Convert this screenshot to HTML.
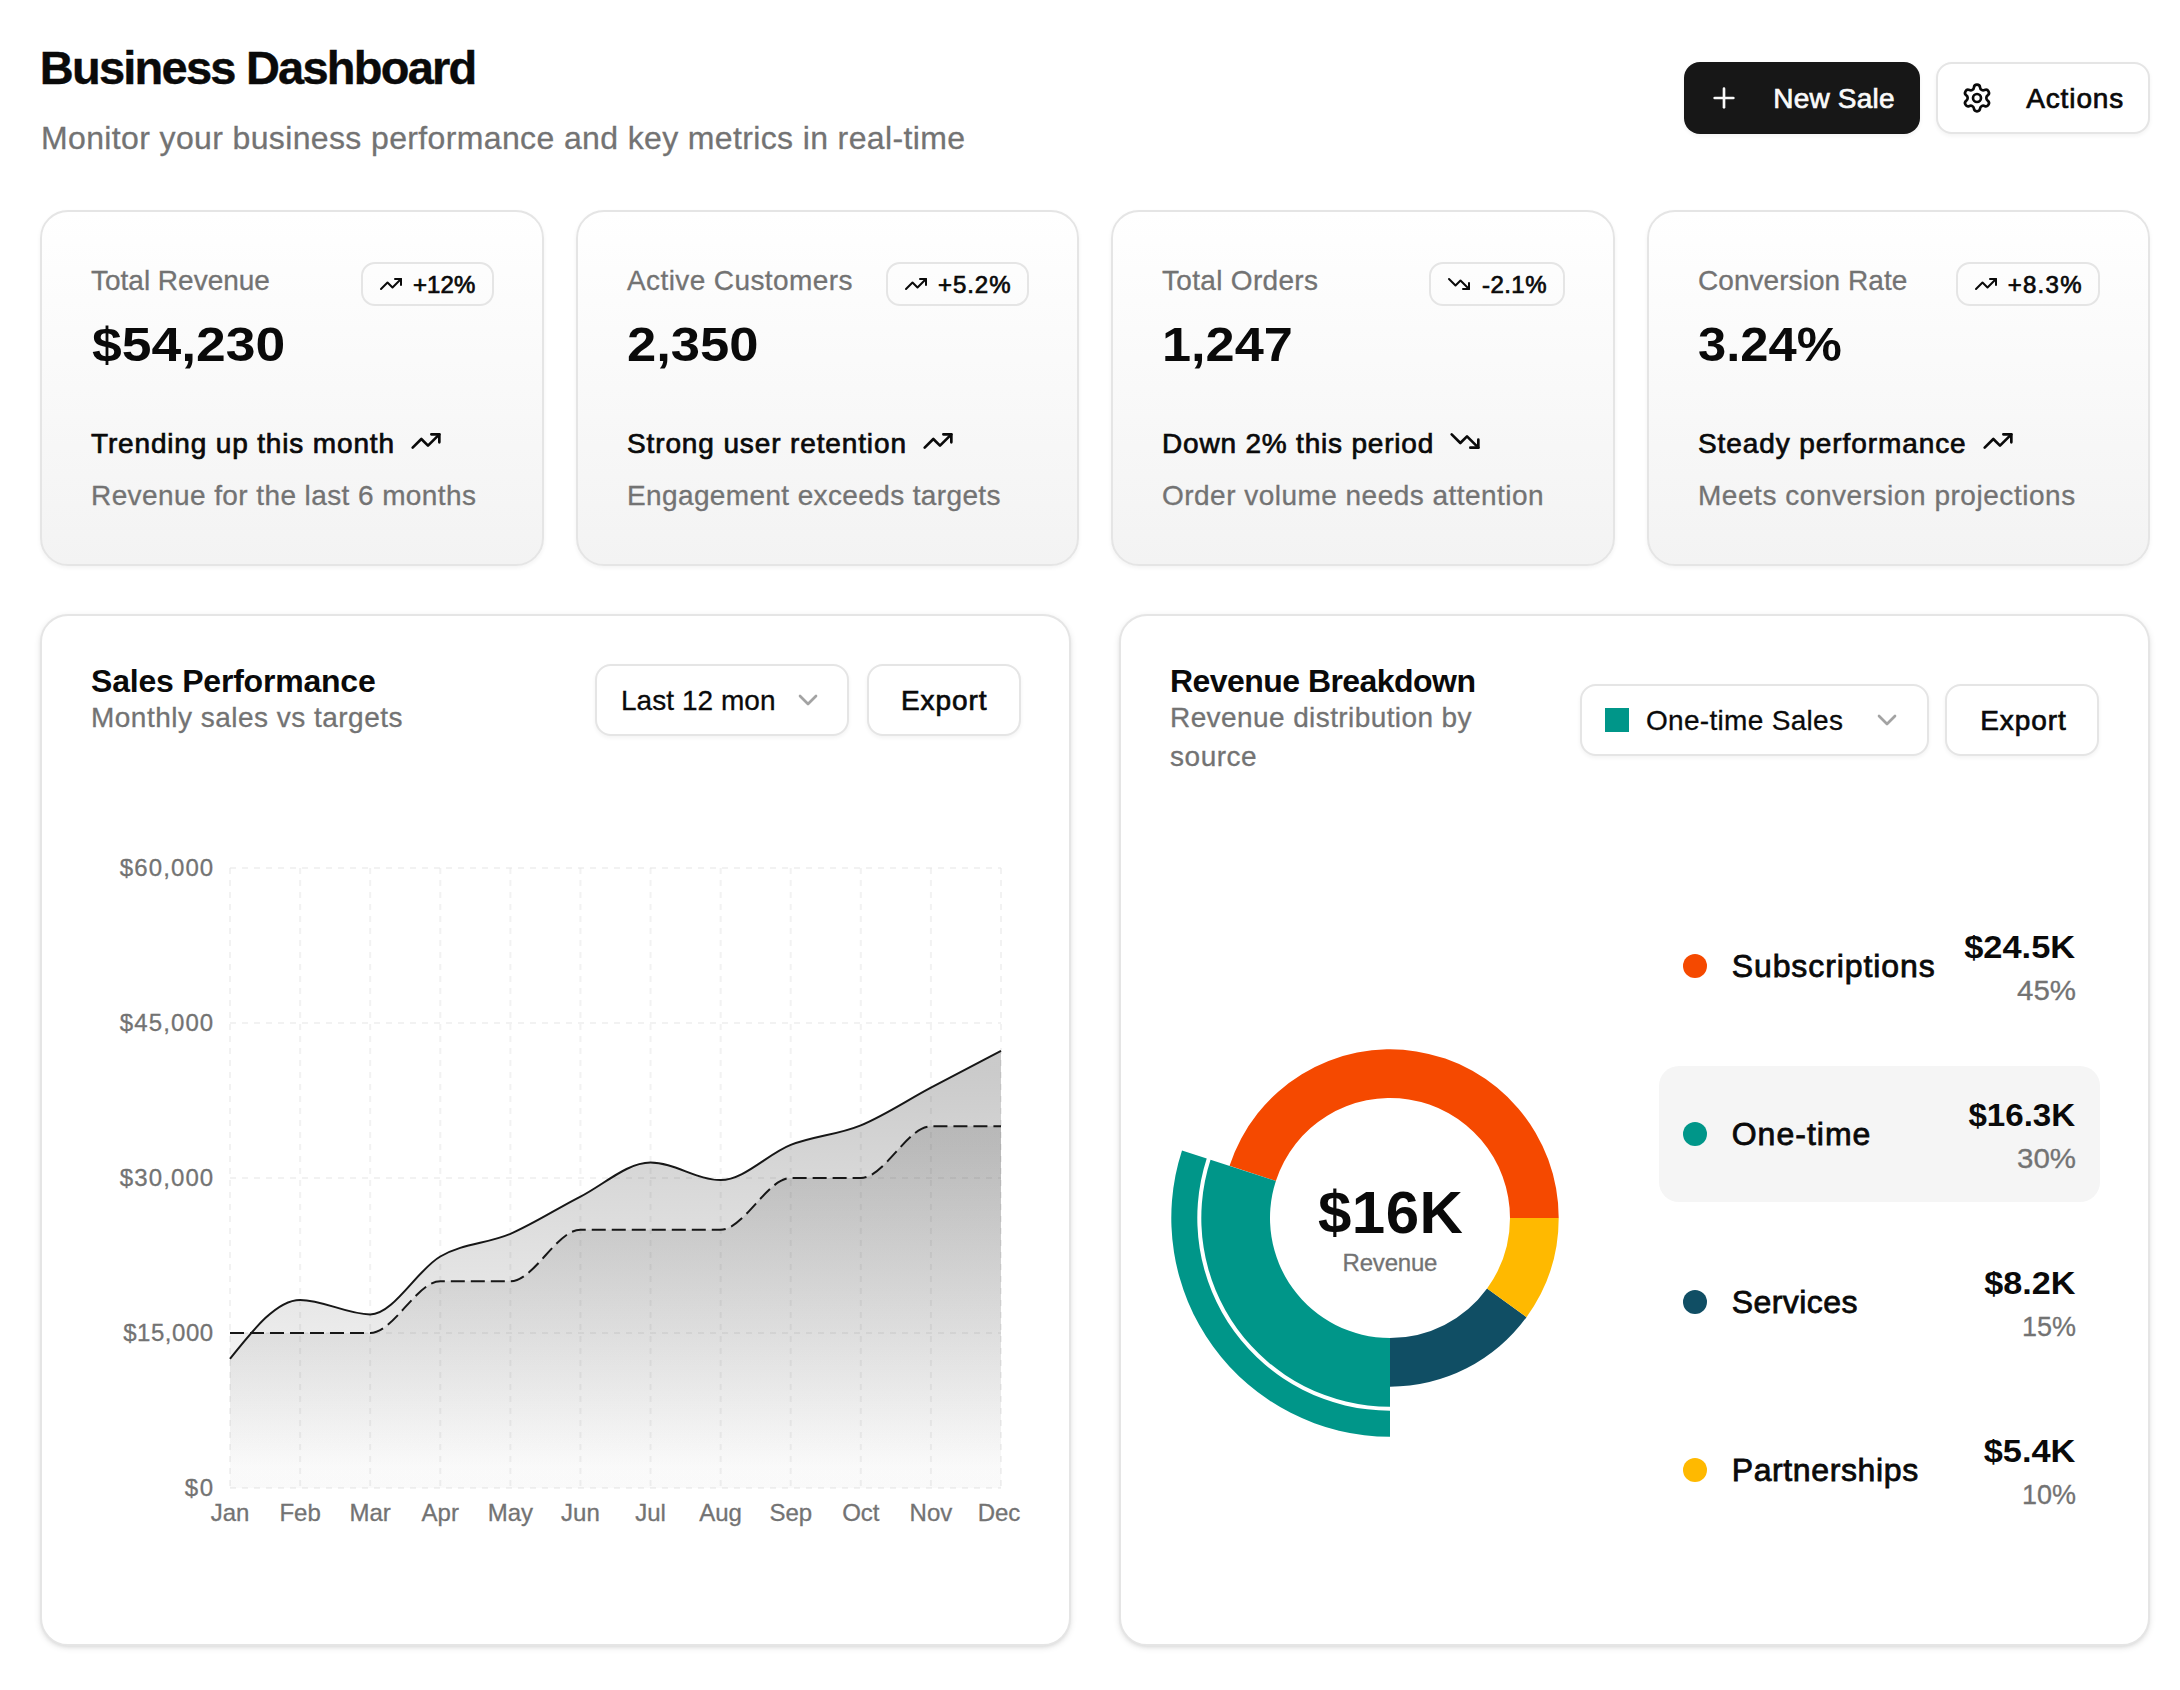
<!DOCTYPE html>
<html lang="en">
<head>
<meta charset="utf-8">
<title>Business Dashboard</title>
<meta name="viewport" content="width=2180">
<style>
*{box-sizing:border-box}
html,body{margin:0;padding:0;background:#fff}
body{width:2180px;height:1690px;position:relative;overflow:hidden;font-family:'Liberation Sans', Arial, sans-serif;color:#0a0a0a;-webkit-font-smoothing:antialiased}
h1,h2,p,ul,li,strong,button{margin:0;padding:0;font:inherit;color:inherit;list-style:none}
.t{position:absolute;white-space:pre;display:block;font-weight:400}
.ic,.abs{position:absolute;display:block}
svg.abs{overflow:visible}
.card{position:absolute;background:#fff;border:2px solid #e5e5e5;border-radius:28px;box-shadow:0 2px 6px rgba(0,0,0,0.1),0 2px 4px -2px rgba(0,0,0,0.1)}
.card.stat{background:linear-gradient(to top,#f3f3f3,#ffffff);box-shadow:0 2px 4px rgba(0,0,0,0.05)}
.btn{position:absolute;border-radius:16px;border:0;background:none;text-align:left;cursor:pointer;overflow:visible}
.btn.primary{background:#171717;box-shadow:0 2px 4px rgba(0,0,0,0.05)}
.btn.outline{background:#fff;border:2px solid #e5e5e5;box-shadow:0 2px 4px rgba(0,0,0,0.05)}
.badge{position:absolute;border:2px solid #e5e5e5;border-radius:14px}
.sw{position:absolute;background:#009689}
.dot{position:absolute;border-radius:50%}
.row{position:absolute;border-radius:20px}
.row.active{background:#f5f5f5}
</style>
</head>
<body>
<header class="abs" style="left:0px;top:0px;width:2180px;height:190px;">
<h1 class="t" style="left:39.80px;top:38.21px;font-size:47px;line-height:59px;font-weight:700;letter-spacing:-1.767px;-webkit-text-stroke:0.4px #0a0a0a;">Business Dashboard</h1>
<p class="t" style="left:41.00px;top:118.41px;font-size:32px;line-height:40px;color:#737373;letter-spacing:0.366px;-webkit-text-stroke:0.3px #737373;">Monitor your business performance and key metrics in real-time</p>
<button class="btn primary" type="button" style="left:1684px;top:62px;width:236px;height:72px;">
<svg class="ic" style="left:24.00px;top:20.00px" width="32" height="32" viewBox="0 0 24 24" fill="none" stroke="#fafafa" stroke-width="2" stroke-linecap="round" stroke-linejoin="round" aria-hidden="true"><path d="M5 12h14"/><path d="M12 5v14"/></svg>
<span class="t" style="left:89.30px;top:18.80px;font-size:28px;line-height:35px;color:#fafafa;letter-spacing:0.194px;-webkit-text-stroke:0.7px #fafafa;">New Sale</span>
</button>
<button class="btn outline" type="button" style="left:1936px;top:62px;width:214px;height:72px;">
<svg class="ic" style="left:23.30px;top:18.00px" width="32" height="32" viewBox="0 0 24 24" fill="none" stroke="#0a0a0a" stroke-width="2" stroke-linecap="round" stroke-linejoin="round" aria-hidden="true"><path d="M9.671 4.136a2.34 2.34 0 0 1 4.659 0 2.34 2.34 0 0 0 3.319 1.915 2.34 2.34 0 0 1 2.33 4.033 2.34 2.34 0 0 0 0 3.831 2.34 2.34 0 0 1-2.33 4.033 2.34 2.34 0 0 0-3.319 1.915 2.34 2.34 0 0 1-4.659 0 2.34 2.34 0 0 0-3.32-1.915 2.34 2.34 0 0 1-2.33-4.033 2.34 2.34 0 0 0 0-3.831A2.34 2.34 0 0 1 6.35 6.051a2.34 2.34 0 0 0 3.319-1.915"/><circle cx="12" cy="12" r="3"/></svg>
<span class="t" style="left:88.20px;top:16.80px;font-size:28px;line-height:35px;letter-spacing:0.879px;-webkit-text-stroke:0.7px #0a0a0a;">Actions</span>
</button>
</header>
<section class="abs stats" style="left:0px;top:190px;width:2180px;height:400px;">
<article class="card stat" style="left:40px;top:20px;width:504px;height:356px;">
<span class="t label" style="left:49.00px;top:51.00px;font-size:28px;line-height:35px;color:#737373;letter-spacing:-0.010px;-webkit-text-stroke:0.3px #737373;">Total Revenue</span>
<strong class="t value" style="left:49.80px;top:103.37px;font-size:48px;line-height:60px;font-weight:700;transform:scaleX(1.1134);transform-origin:left center;">$54,230</strong>
<div class="badge" style="left:318.7px;top:50px;width:133.3px;height:44px;">
<svg class="ic" style="left:16.00px;top:8.00px" width="24" height="24" viewBox="0 0 24 24" fill="none" stroke="#0a0a0a" stroke-width="2" stroke-linecap="round" stroke-linejoin="round" aria-hidden="true"><polyline points="22 7 13.5 15.5 8.5 10.5 2 17"/><polyline points="16 7 22 7 22 13"/></svg>
<span class="t" style="left:50.20px;top:5.98px;font-size:24px;line-height:30px;letter-spacing:0.179px;-webkit-text-stroke:0.7px #0a0a0a;">+12%</span>
</div>
<footer class="abs" style="left:0px;top:208px;width:500px;height:100px;">
<span class="t" style="left:49.00px;top:6.20px;font-size:28px;line-height:35px;letter-spacing:0.840px;-webkit-text-stroke:0.7px #0a0a0a;">Trending up this month</span>
<svg class="ic" style="left:368.00px;top:4.50px" width="32" height="32" viewBox="0 0 24 24" fill="none" stroke="#0a0a0a" stroke-width="2" stroke-linecap="round" stroke-linejoin="round" aria-hidden="true"><polyline points="22 7 13.5 15.5 8.5 10.5 2 17"/><polyline points="16 7 22 7 22 13"/></svg>
<span class="t" style="left:49.00px;top:58.20px;font-size:28px;line-height:35px;color:#737373;letter-spacing:0.409px;-webkit-text-stroke:0.3px #737373;">Revenue for the last 6 months</span>
</footer>
</article>
<article class="card stat" style="left:576px;top:20px;width:503px;height:356px;">
<span class="t label" style="left:49.00px;top:51.00px;font-size:28px;line-height:35px;color:#737373;letter-spacing:0.400px;-webkit-text-stroke:0.3px #737373;">Active Customers</span>
<strong class="t value" style="left:49.40px;top:103.37px;font-size:48px;line-height:60px;font-weight:700;transform:scaleX(1.0947);transform-origin:left center;">2,350</strong>
<div class="badge" style="left:308.4px;top:50px;width:142.6px;height:44px;">
<svg class="ic" style="left:16.00px;top:8.00px" width="24" height="24" viewBox="0 0 24 24" fill="none" stroke="#0a0a0a" stroke-width="2" stroke-linecap="round" stroke-linejoin="round" aria-hidden="true"><polyline points="22 7 13.5 15.5 8.5 10.5 2 17"/><polyline points="16 7 22 7 22 13"/></svg>
<span class="t" style="left:49.50px;top:5.98px;font-size:24px;line-height:30px;letter-spacing:0.970px;-webkit-text-stroke:0.7px #0a0a0a;">+5.2%</span>
</div>
<footer class="abs" style="left:0px;top:208px;width:499px;height:100px;">
<span class="t" style="left:49.00px;top:6.20px;font-size:28px;line-height:35px;letter-spacing:0.875px;-webkit-text-stroke:0.7px #0a0a0a;">Strong user retention</span>
<svg class="ic" style="left:344.00px;top:4.50px" width="32" height="32" viewBox="0 0 24 24" fill="none" stroke="#0a0a0a" stroke-width="2" stroke-linecap="round" stroke-linejoin="round" aria-hidden="true"><polyline points="22 7 13.5 15.5 8.5 10.5 2 17"/><polyline points="16 7 22 7 22 13"/></svg>
<span class="t" style="left:49.00px;top:58.20px;font-size:28px;line-height:35px;color:#737373;letter-spacing:0.371px;-webkit-text-stroke:0.3px #737373;">Engagement exceeds targets</span>
</footer>
</article>
<article class="card stat" style="left:1111px;top:20px;width:504px;height:356px;">
<span class="t label" style="left:49.00px;top:51.00px;font-size:28px;line-height:35px;color:#737373;letter-spacing:0.318px;-webkit-text-stroke:0.3px #737373;">Total Orders</span>
<strong class="t value" style="left:49.40px;top:103.37px;font-size:48px;line-height:60px;font-weight:700;transform:scaleX(1.0889);transform-origin:left center;">1,247</strong>
<div class="badge" style="left:315.9px;top:50px;width:136.1px;height:44px;">
<svg class="ic" style="left:16.00px;top:8.00px" width="24" height="24" viewBox="0 0 24 24" fill="none" stroke="#0a0a0a" stroke-width="2" stroke-linecap="round" stroke-linejoin="round" aria-hidden="true"><polyline points="22 17 13.5 8.5 8.5 13.5 2 7"/><polyline points="16 17 22 17 22 11"/></svg>
<span class="t" style="left:51.20px;top:5.98px;font-size:24px;line-height:30px;letter-spacing:0.424px;-webkit-text-stroke:0.7px #0a0a0a;">-2.1%</span>
</div>
<footer class="abs" style="left:0px;top:208px;width:500px;height:100px;">
<span class="t" style="left:49.00px;top:6.20px;font-size:28px;line-height:35px;letter-spacing:0.805px;-webkit-text-stroke:0.7px #0a0a0a;">Down 2% this period</span>
<svg class="ic" style="left:336.30px;top:4.50px" width="32" height="32" viewBox="0 0 24 24" fill="none" stroke="#0a0a0a" stroke-width="2" stroke-linecap="round" stroke-linejoin="round" aria-hidden="true"><polyline points="22 17 13.5 8.5 8.5 13.5 2 7"/><polyline points="16 17 22 17 22 11"/></svg>
<span class="t" style="left:49.00px;top:58.20px;font-size:28px;line-height:35px;color:#737373;letter-spacing:0.474px;-webkit-text-stroke:0.3px #737373;">Order volume needs attention</span>
</footer>
</article>
<article class="card stat" style="left:1647px;top:20px;width:503px;height:356px;">
<span class="t label" style="left:49.00px;top:51.00px;font-size:28px;line-height:35px;color:#737373;letter-spacing:0.053px;-webkit-text-stroke:0.3px #737373;">Conversion Rate</span>
<strong class="t value" style="left:49.20px;top:103.37px;font-size:48px;line-height:60px;font-weight:700;transform:scaleX(1.0558);transform-origin:left center;">3.24%</strong>
<div class="badge" style="left:307px;top:50px;width:144px;height:44px;">
<svg class="ic" style="left:16.00px;top:8.00px" width="24" height="24" viewBox="0 0 24 24" fill="none" stroke="#0a0a0a" stroke-width="2" stroke-linecap="round" stroke-linejoin="round" aria-hidden="true"><polyline points="22 7 13.5 15.5 8.5 10.5 2 17"/><polyline points="16 7 22 7 22 13"/></svg>
<span class="t" style="left:49.70px;top:5.98px;font-size:24px;line-height:30px;letter-spacing:1.270px;-webkit-text-stroke:0.7px #0a0a0a;">+8.3%</span>
</div>
<footer class="abs" style="left:0px;top:208px;width:499px;height:100px;">
<span class="t" style="left:49.00px;top:6.20px;font-size:28px;line-height:35px;letter-spacing:0.915px;-webkit-text-stroke:0.7px #0a0a0a;">Steady performance</span>
<svg class="ic" style="left:332.70px;top:4.50px" width="32" height="32" viewBox="0 0 24 24" fill="none" stroke="#0a0a0a" stroke-width="2" stroke-linecap="round" stroke-linejoin="round" aria-hidden="true"><polyline points="22 7 13.5 15.5 8.5 10.5 2 17"/><polyline points="16 7 22 7 22 13"/></svg>
<span class="t" style="left:49.00px;top:58.20px;font-size:28px;line-height:35px;color:#737373;letter-spacing:0.540px;-webkit-text-stroke:0.3px #737373;">Meets conversion projections</span>
</footer>
</article>
</section>
<section class="abs charts" style="left:0px;top:590px;width:2180px;height:1100px;">
<article class="card" style="left:40px;top:24px;width:1031px;height:1032px;">
<h2 class="t" style="left:49.00px;top:45.11px;font-size:32px;line-height:40px;font-weight:700;letter-spacing:-0.216px;">Sales Performance</h2>
<p class="t" style="left:49.00px;top:83.60px;font-size:28px;line-height:35px;color:#737373;letter-spacing:0.485px;-webkit-text-stroke:0.3px #737373;">Monthly sales vs targets</p>
<button class="btn outline" type="button" style="left:552.7px;top:48px;width:254.6px;height:72px;">
<span class="t" style="left:24.30px;top:16.60px;font-size:28px;line-height:35px;letter-spacing:0.039px;-webkit-text-stroke:0.3px #0a0a0a;">Last 12 mon</span>
<svg class="ic" style="left:195.80px;top:18.00px" width="32" height="32" viewBox="0 0 24 24" fill="none" stroke="#a3a3a3" stroke-width="2" stroke-linecap="round" stroke-linejoin="round" aria-hidden="true"><path d="m6 9 6 6 6-6"/></svg>
</button>
<button class="btn outline" type="button" style="left:824.5px;top:48px;width:154px;height:72px;">
<span class="t" style="left:32.40px;top:16.60px;font-size:28px;line-height:35px;letter-spacing:0.953px;-webkit-text-stroke:0.7px #0a0a0a;">Export</span>
</button>
<svg class="abs" role="img" aria-label="Monthly sales vs targets area chart" style="left:-2px;top:-2px" width="1031" height="1032" viewBox="40 614 1031 1032"><defs><linearGradient id="fillSales" x1="0" y1="0" x2="0" y2="1"><stop offset="5%" stop-color="#171717" stop-opacity="0.225"/><stop offset="95%" stop-color="#171717" stop-opacity="0.015"/></linearGradient><linearGradient id="fillTarget" x1="0" y1="0" x2="0" y2="1"><stop offset="5%" stop-color="#171717" stop-opacity="0.135"/><stop offset="95%" stop-color="#171717" stop-opacity="0.008"/></linearGradient></defs><g stroke="#e5e5e5" stroke-opacity="0.5" stroke-width="2" stroke-dasharray="6 6" fill="none"><line x1="230" y1="1488.0" x2="1001" y2="1488.0"/><line x1="230" y1="1333.0" x2="1001" y2="1333.0"/><line x1="230" y1="1178.0" x2="1001" y2="1178.0"/><line x1="230" y1="1023.0" x2="1001" y2="1023.0"/><line x1="230" y1="868.0" x2="1001" y2="868.0"/><line x1="230.00" y1="868" x2="230.00" y2="1488"/><line x1="300.09" y1="868" x2="300.09" y2="1488"/><line x1="370.18" y1="868" x2="370.18" y2="1488"/><line x1="440.27" y1="868" x2="440.27" y2="1488"/><line x1="510.36" y1="868" x2="510.36" y2="1488"/><line x1="580.45" y1="868" x2="580.45" y2="1488"/><line x1="650.55" y1="868" x2="650.55" y2="1488"/><line x1="720.64" y1="868" x2="720.64" y2="1488"/><line x1="790.73" y1="868" x2="790.73" y2="1488"/><line x1="860.82" y1="868" x2="860.82" y2="1488"/><line x1="930.91" y1="868" x2="930.91" y2="1488"/><line x1="1001.00" y1="868" x2="1001.00" y2="1488"/></g><path d="M230.0,1333.0C253.4,1333.0,276.7,1333.0,300.1,1333.0C323.5,1333.0,346.8,1333.0,370.2,1333.0C393.5,1333.0,416.9,1281.3,440.3,1281.3C463.6,1281.3,487.0,1281.3,510.4,1281.3C533.7,1281.3,557.1,1229.7,580.5,1229.7C603.8,1229.7,627.2,1229.7,650.5,1229.7C673.9,1229.7,697.3,1229.7,720.6,1229.7C744.0,1229.7,767.4,1178.0,790.7,1178.0C814.1,1178.0,837.5,1178.0,860.8,1178.0C884.2,1178.0,907.5,1126.3,930.9,1126.3C954.3,1126.3,977.6,1126.3,1001.0,1126.3L1001.0,1488.0L230.0,1488.0Z" fill="url(#fillTarget)"/><path d="M230.0,1333.0C253.4,1333.0,276.7,1333.0,300.1,1333.0C323.5,1333.0,346.8,1333.0,370.2,1333.0C393.5,1333.0,416.9,1281.3,440.3,1281.3C463.6,1281.3,487.0,1281.3,510.4,1281.3C533.7,1281.3,557.1,1229.7,580.5,1229.7C603.8,1229.7,627.2,1229.7,650.5,1229.7C673.9,1229.7,697.3,1229.7,720.6,1229.7C744.0,1229.7,767.4,1178.0,790.7,1178.0C814.1,1178.0,837.5,1178.0,860.8,1178.0C884.2,1178.0,907.5,1126.3,930.9,1126.3C954.3,1126.3,977.6,1126.3,1001.0,1126.3" fill="none" stroke="#171717" stroke-width="2" stroke-dasharray="14 6"/><path d="M230.0,1358.8C253.4,1329.4,276.7,1299.9,300.1,1299.9C323.5,1299.9,346.8,1314.4,370.2,1314.4C393.5,1314.4,416.9,1270.0,440.3,1256.5C463.6,1243.1,487.0,1243.8,510.4,1233.8C533.7,1223.8,557.1,1208.5,580.5,1196.6C603.8,1184.7,627.2,1162.5,650.5,1162.5C673.9,1162.5,697.3,1180.1,720.6,1180.1C744.0,1180.1,767.4,1154.1,790.7,1144.9C814.1,1135.8,837.5,1134.9,860.8,1125.3C884.2,1115.7,907.5,1100.0,930.9,1087.6C954.3,1075.2,977.6,1063.0,1001.0,1050.9L1001.0,1488.0L230.0,1488.0Z" fill="url(#fillSales)"/><path d="M230.0,1358.8C253.4,1329.4,276.7,1299.9,300.1,1299.9C323.5,1299.9,346.8,1314.4,370.2,1314.4C393.5,1314.4,416.9,1270.0,440.3,1256.5C463.6,1243.1,487.0,1243.8,510.4,1233.8C533.7,1223.8,557.1,1208.5,580.5,1196.6C603.8,1184.7,627.2,1162.5,650.5,1162.5C673.9,1162.5,697.3,1180.1,720.6,1180.1C744.0,1180.1,767.4,1154.1,790.7,1144.9C814.1,1135.8,837.5,1134.9,860.8,1125.3C884.2,1115.7,907.5,1100.0,930.9,1087.6C954.3,1075.2,977.6,1063.0,1001.0,1050.9" fill="none" stroke="#171717" stroke-width="2"/></svg>
<span class="t tick" style="left:142.70px;top:857.18px;font-size:24px;line-height:30px;color:#737373;letter-spacing:1.797px;-webkit-text-stroke:0.3px #737373;">$0</span>
<span class="t tick" style="left:81.20px;top:702.18px;font-size:24px;line-height:30px;color:#737373;letter-spacing:0.539px;-webkit-text-stroke:0.3px #737373;">$15,000</span>
<span class="t tick" style="left:77.80px;top:547.18px;font-size:24px;line-height:30px;color:#737373;letter-spacing:1.106px;-webkit-text-stroke:0.3px #737373;">$30,000</span>
<span class="t tick" style="left:77.80px;top:392.18px;font-size:24px;line-height:30px;color:#737373;letter-spacing:1.106px;-webkit-text-stroke:0.3px #737373;">$45,000</span>
<span class="t tick" style="left:77.80px;top:237.18px;font-size:24px;line-height:30px;color:#737373;letter-spacing:1.106px;-webkit-text-stroke:0.3px #737373;">$60,000</span>
<span class="t tick" style="left:168.65px;top:882.08px;font-size:24px;line-height:30px;color:#737373;-webkit-text-stroke:0.3px #737373;">Jan</span>
<span class="t tick" style="left:237.41px;top:882.08px;font-size:24px;line-height:30px;color:#737373;-webkit-text-stroke:0.3px #737373;">Feb</span>
<span class="t tick" style="left:307.51px;top:882.08px;font-size:24px;line-height:30px;color:#737373;-webkit-text-stroke:0.3px #737373;">Mar</span>
<span class="t tick" style="left:379.59px;top:882.08px;font-size:24px;line-height:30px;color:#737373;-webkit-text-stroke:0.3px #737373;">Apr</span>
<span class="t tick" style="left:445.69px;top:882.08px;font-size:24px;line-height:30px;color:#737373;-webkit-text-stroke:0.3px #737373;">May</span>
<span class="t tick" style="left:519.10px;top:882.08px;font-size:24px;line-height:30px;color:#737373;-webkit-text-stroke:0.3px #737373;">Jun</span>
<span class="t tick" style="left:593.20px;top:882.08px;font-size:24px;line-height:30px;color:#737373;-webkit-text-stroke:0.3px #737373;">Jul</span>
<span class="t tick" style="left:657.28px;top:882.08px;font-size:24px;line-height:30px;color:#737373;-webkit-text-stroke:0.3px #737373;">Aug</span>
<span class="t tick" style="left:727.38px;top:882.08px;font-size:24px;line-height:30px;color:#737373;-webkit-text-stroke:0.3px #737373;">Sep</span>
<span class="t tick" style="left:800.15px;top:882.08px;font-size:24px;line-height:30px;color:#737373;-webkit-text-stroke:0.3px #737373;">Oct</span>
<span class="t tick" style="left:867.57px;top:882.08px;font-size:24px;line-height:30px;color:#737373;-webkit-text-stroke:0.3px #737373;">Nov</span>
<span class="t tick" style="left:935.66px;top:882.08px;font-size:24px;line-height:30px;color:#737373;-webkit-text-stroke:0.3px #737373;">Dec</span>
</article>
<article class="card" style="left:1119px;top:24px;width:1031px;height:1032px;">
<h2 class="t" style="left:49.00px;top:45.11px;font-size:32px;line-height:40px;font-weight:700;letter-spacing:-0.548px;">Revenue Breakdown</h2>
<p class="t" style="left:49.00px;top:83.60px;font-size:28px;line-height:35px;color:#737373;letter-spacing:0.408px;-webkit-text-stroke:0.3px #737373;">Revenue distribution by</p>
<p class="t" style="left:49.00px;top:123.40px;font-size:28px;line-height:35px;color:#737373;letter-spacing:0.531px;-webkit-text-stroke:0.3px #737373;">source</p>
<button class="btn outline" type="button" style="left:459px;top:68px;width:348.8px;height:72px;">
<div class="sw" style="left:23px;top:22px;width:24px;height:24px;"></div>
<span class="t" style="left:64.00px;top:16.60px;font-size:28px;line-height:35px;letter-spacing:0.310px;-webkit-text-stroke:0.3px #0a0a0a;">One-time Sales</span>
<svg class="ic" style="left:289.20px;top:18.00px" width="32" height="32" viewBox="0 0 24 24" fill="none" stroke="#a3a3a3" stroke-width="2" stroke-linecap="round" stroke-linejoin="round" aria-hidden="true"><path d="m6 9 6 6 6-6"/></svg>
</button>
<button class="btn outline" type="button" style="left:824.4px;top:68px;width:154px;height:72px;">
<span class="t" style="left:32.90px;top:16.60px;font-size:28px;line-height:35px;letter-spacing:0.912px;-webkit-text-stroke:0.7px #0a0a0a;">Export</span>
</button>
<svg class="abs" role="img" aria-label="Revenue distribution donut chart" style="left:29px;top:364px" width="480" height="480" viewBox="1150 980 480 480"><path d="M1558.70,1218.00A168.7,168.7,0,0,0,1229.56,1165.87L1275.87,1180.92A120.0,120.0,0,0,1,1510.00,1218.00Z" fill="#f54900"/><path d="M1390.00,1386.70A168.7,168.7,0,0,0,1526.48,1317.16L1487.08,1288.53A120.0,120.0,0,0,1,1390.00,1338.00Z" fill="#104e64"/><path d="M1526.48,1317.16A168.7,168.7,0,0,0,1558.70,1218.00L1510.00,1218.00A120.0,120.0,0,0,1,1487.08,1288.53Z" fill="#ffb900"/><path d="M1210.54,1159.69A188.7,188.7,0,0,0,1390.00,1406.70L1390.00,1338.00A120.0,120.0,0,0,1,1275.87,1180.92Z" fill="#009689"/><path d="M1182.00,1150.42A218.7,218.7,0,0,0,1390.00,1436.70L1390.00,1410.70A192.7,192.7,0,0,1,1206.73,1158.45Z" fill="#009689"/></svg>
<strong class="t" style="left:196.90px;top:559.21px;font-size:60px;line-height:75px;font-weight:700;letter-spacing:0.521px;">$16K</strong>
<span class="t" style="left:221.60px;top:632.48px;font-size:24px;line-height:30px;color:#737373;letter-spacing:-0.213px;-webkit-text-stroke:0.3px #737373;">Revenue</span>
<ul class="abs legend" style="left:538.3px;top:282px;width:441px;height:640px;">
<li class="row" style="left:0px;top:0px;width:441px;height:136px;">
<div class="dot" style="left:23.7px;top:56px;width:24px;height:24px;background:#f54900"></div>
<span class="t" style="left:72.40px;top:47.91px;font-size:32px;line-height:40px;letter-spacing:0.909px;-webkit-text-stroke:0.8px #0a0a0a;">Subscriptions</span>
<strong class="t" style="left:313.11px;top:28.51px;font-size:32px;line-height:40px;font-weight:700;transform:scaleX(1.0757);transform-origin:right center;">$24.5K</strong>
<span class="t" style="left:360.25px;top:74.80px;font-size:28px;line-height:35px;color:#737373;transform:scaleX(1.0527);transform-origin:right center;-webkit-text-stroke:0.3px #737373;">45%</span>
</li>
<li class="row active" style="left:0px;top:168px;width:441px;height:136px;">
<div class="dot" style="left:23.7px;top:56px;width:24px;height:24px;background:#009689"></div>
<span class="t" style="left:72.40px;top:47.91px;font-size:32px;line-height:40px;letter-spacing:1.015px;-webkit-text-stroke:0.8px #0a0a0a;">One-time</span>
<strong class="t" style="left:313.11px;top:28.51px;font-size:32px;line-height:40px;font-weight:700;transform:scaleX(1.0350);transform-origin:right center;">$16.3K</strong>
<span class="t" style="left:360.25px;top:74.80px;font-size:28px;line-height:35px;color:#737373;transform:scaleX(1.0527);transform-origin:right center;-webkit-text-stroke:0.3px #737373;">30%</span>
</li>
<li class="row" style="left:0px;top:336px;width:441px;height:136px;">
<div class="dot" style="left:23.7px;top:56px;width:24px;height:24px;background:#104e64"></div>
<span class="t" style="left:72.40px;top:47.91px;font-size:32px;line-height:40px;letter-spacing:0.442px;-webkit-text-stroke:0.8px #0a0a0a;">Services</span>
<strong class="t" style="left:330.91px;top:28.51px;font-size:32px;line-height:40px;font-weight:700;transform:scaleX(1.0680);transform-origin:right center;">$8.2K</strong>
<span class="t" style="left:360.25px;top:74.80px;font-size:28px;line-height:35px;color:#737373;transform:scaleX(0.9635);transform-origin:right center;-webkit-text-stroke:0.3px #737373;">15%</span>
</li>
<li class="row" style="left:0px;top:504px;width:441px;height:136px;">
<div class="dot" style="left:23.7px;top:56px;width:24px;height:24px;background:#ffb900"></div>
<span class="t" style="left:72.40px;top:47.91px;font-size:32px;line-height:40px;letter-spacing:0.624px;-webkit-text-stroke:0.8px #0a0a0a;">Partnerships</span>
<strong class="t" style="left:330.91px;top:28.51px;font-size:32px;line-height:40px;font-weight:700;transform:scaleX(1.0739);transform-origin:right center;">$5.4K</strong>
<span class="t" style="left:360.25px;top:74.80px;font-size:28px;line-height:35px;color:#737373;transform:scaleX(0.9635);transform-origin:right center;-webkit-text-stroke:0.3px #737373;">10%</span>
</li>
</ul>
</article>
</section>
</body>
</html>
